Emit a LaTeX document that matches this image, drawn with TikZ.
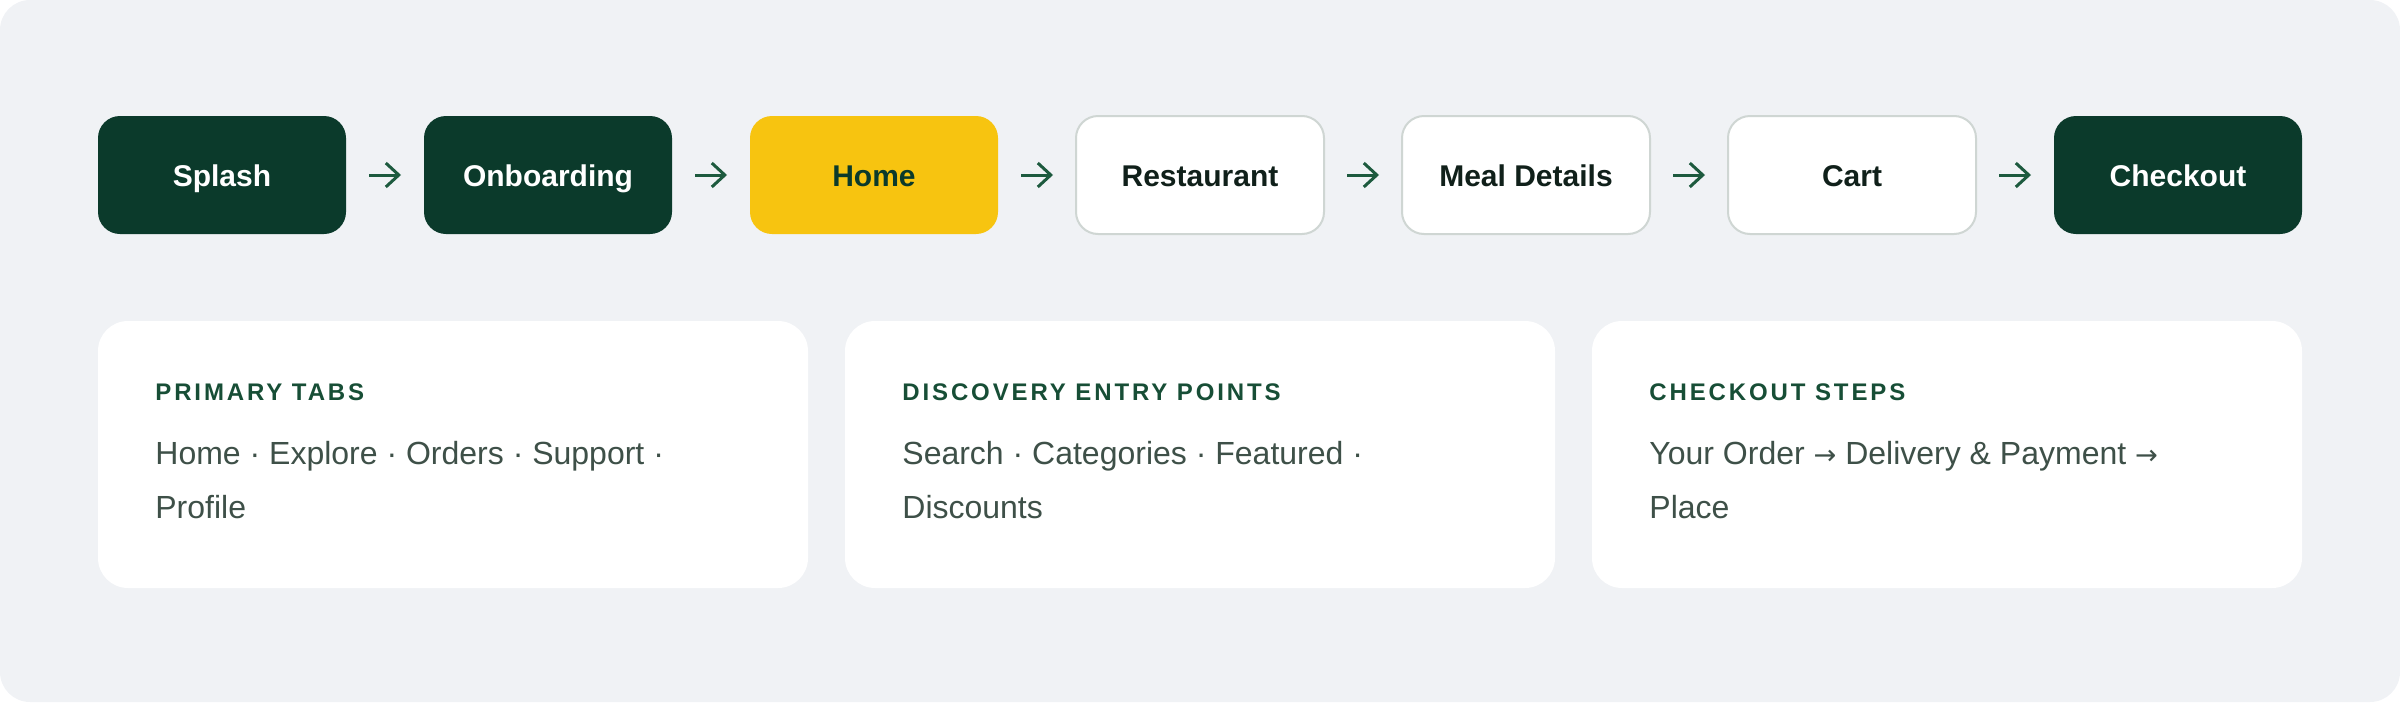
\documentclass[tikz,border=0pt]{standalone}
\usepackage{fontspec}
\setmainfont{Liberation Sans}
\newfontfamily\headfont[LetterSpace=12]{Liberation Sans}
\newfontfamily\symfont[Scale=0.85]{DejaVu Sans}
\newcommand{\nextstep}{{\symfont →}}
\usetikzlibrary{positioning,arrows.meta}
\definecolor{pine}{HTML}{0B3A2B}
\definecolor{canvas}{HTML}{F0F2F5}
\definecolor{sun}{HTML}{F7C410}
\definecolor{rim}{HTML}{CFD6D3}
\definecolor{leaf}{HTML}{1D5A3E}
\definecolor{ink}{HTML}{10201A}
\definecolor{slate}{HTML}{3E5048}
\definecolor{heading}{HTML}{174E36}

\begin{document}
\begin{tikzpicture}[x=0.5pt,y=-0.5pt,node distance=39pt,
  screen/.style={rounded corners=11pt,minimum width=124pt,minimum height=59pt,inner sep=0pt,outer sep=0pt,
    text height=11pt,text depth=0pt,font=\fontsize{15}{18}\selectfont\bfseries},
  dark/.style={screen,fill=pine,text=white},
  plain/.style={screen,fill=white,draw=rim,line width=1pt,text=ink},
  card/.style={fill=white,rounded corners=15pt,minimum width=355pt,minimum height=133.5pt,inner sep=0pt,outer sep=0pt},
  head/.style={anchor=base west,inner sep=0pt,text=heading,font=\headfont\fontsize{12}{14}\selectfont\bfseries},
  body/.style={anchor=base west,inner sep=0pt,align=left,text=slate,font=\fontsize{16}{27}\selectfont},
  flow/.style={leaf,line width=1.5pt,shorten <=11.5pt,shorten >=11.5pt,-{Straight Barb[length=6.5pt,width=12pt]}}]
\fill[canvas,rounded corners=15pt] (0,0) rectangle (2400,702);
\useasboundingbox (0,0) rectangle (2400,702);
\node[dark] (splash) at (222,175) {Splash};
\node[dark,right=of splash] (onboard) {Onboarding};
\node[screen,fill=sun,text=pine,right=of onboard] (home) {Home};
\node[plain,right=of home] (resto) {Restaurant};
\node[plain,right=of resto] (meal) {Meal Details};
\node[plain,right=of meal] (cart) {Cart};
\node[dark,right=of cart] (checkout) {Checkout};
\foreach \a/\b in {splash/onboard,onboard/home,home/resto,resto/meal,meal/cart,cart/checkout}
  \draw[flow] (\a) -- (\b);
\node[card] (tabs) at (453,454.5) {};
\node[card] (discover) at (1200,454.5) {};
\node[card] (steps) at (1947,454.5) {};
\node[head] (tabshead) at ([shift={(57,79)}]tabs.north west) {PRIMARY TABS};
\node[body] (tabsbody) at ([shift={(57,197)}]tabs.north west) {Home · Explore · Orders · Support ·\\Profile};
\node[head] (discoverhead) at ([shift={(57,79)}]discover.north west) {DISCOVERY ENTRY POINTS};
\node[body] (discoverbody) at ([shift={(57,197)}]discover.north west) {Search · Categories · Featured ·\\Discounts};
\node[head] (stepshead) at ([shift={(57,79)}]steps.north west) {CHECKOUT STEPS};
\node[body] (stepsbody) at ([shift={(57,197)}]steps.north west) {Your Order \nextstep{} Delivery \& Payment \nextstep\\Place};
\end{tikzpicture}
\end{document}
